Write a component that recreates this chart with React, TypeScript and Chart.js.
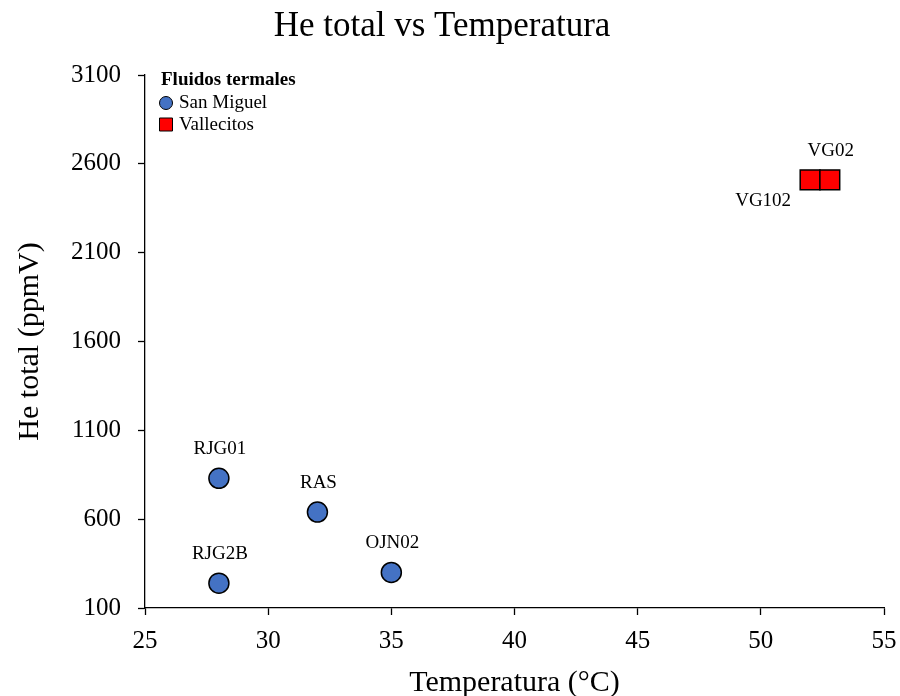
import React, { useEffect, useRef } from "react";
import { Chart, registerables } from "chart.js";

Chart.register(...registerables);

// ---- Data ----
const sanMiguelNames = ["RJG01", "RAS", "RJG2B", "OJN02"];
const sanMiguelTemp = [28, 32, 28, 35];
const sanMiguelHe = [830, 640, 240, 300];

const vallecitosNames = ["VG102", "VG02"];
const vallecitosTemp = [52, 52.8];
const vallecitosHe = [2510, 2510];

const xMin = 25;
const xMax = 55;
const xStep = 5;
const yMin = 100;
const yMax = 3100;
const yStep = 500;

const legendTitle = "Fluidos termales";
const seriesNames = ["San Miguel", "Vallecitos"];

// label placement per point (style, not data)
const sanMiguelPlacement = ["above", "above", "above", "above"];
const vallecitosPlacement = ["below-left", "above"];

const FONT = "'Liberation Serif', 'Times New Roman', serif";
const BLUE = "#4472C4";
const RED = "#FF0000";

const pointLabelPlugin = {
  id: "pointLabels",
  afterDatasetsDraw(chart: any) {
    const ctx = chart.ctx;
    ctx.save();
    ctx.font = `19px ${FONT}`;
    ctx.fillStyle = "#000";
    ctx.textBaseline = "middle";
    chart.data.datasets.forEach((ds: any, di: number) => {
      const meta = chart.getDatasetMeta(di);
      const names: string[] = ds.pointNames || [];
      const places: string[] = ds.placements || [];
      meta.data.forEach((el: any, i: number) => {
        const name = names[i];
        if (!name) return;
        const p = places[i] || "above";
        if (p === "below-left") {
          ctx.textAlign = "right";
          ctx.fillText(name, el.x - 19, el.y + 21);
        } else {
          ctx.textAlign = "center";
          ctx.fillText(name, el.x + 1, el.y - 29);
        }
      });
    });
    ctx.restore();
  },
};

const customLegendPlugin = {
  id: "customLegend",
  afterDraw(chart: any) {
    const { ctx, chartArea } = chart;
    const left = chartArea.left;
    const top = chartArea.top;
    ctx.save();
    ctx.fillStyle = "#000";
    ctx.textBaseline = "middle";
    ctx.textAlign = "left";
    ctx.font = `bold 19px ${FONT}`;
    ctx.fillText(legendTitle, left + 16, top + 5);
    ctx.font = `19px ${FONT}`;
    // San Miguel
    ctx.beginPath();
    ctx.arc(left + 21, top + 28, 6.5, 0, Math.PI * 2);
    ctx.fillStyle = BLUE;
    ctx.fill();
    ctx.lineWidth = 1;
    ctx.strokeStyle = "#000";
    ctx.stroke();
    ctx.fillStyle = "#000";
    ctx.fillText(seriesNames[0], left + 34, top + 28);
    // Vallecitos
    ctx.beginPath();
    ctx.rect(left + 14.5, top + 43, 13, 13);
    ctx.fillStyle = RED;
    ctx.fill();
    ctx.stroke();
    ctx.fillStyle = "#000";
    ctx.fillText(seriesNames[1], left + 34, top + 50);
    ctx.restore();
  },
};

export default function App() {
  const canvasRef = useRef<HTMLCanvasElement | null>(null);

  useEffect(() => {
    document.body.style.margin = "0";
    const canvas = canvasRef.current;
    if (!canvas) return;

    const chart = new Chart(canvas, {
      type: "scatter",
      data: {
        datasets: [
          {
            label: seriesNames[0],
            data: sanMiguelTemp.map((t, i) => ({ x: t, y: sanMiguelHe[i] })),
            pointStyle: "circle",
            pointRadius: 10,
            backgroundColor: BLUE,
            borderColor: "#000",
            borderWidth: 1.5,
            pointNames: sanMiguelNames,
            placements: sanMiguelPlacement,
          } as any,
          {
            label: seriesNames[1],
            data: vallecitosTemp.map((t, i) => ({ x: t, y: vallecitosHe[i] })),
            pointStyle: "rect",
            pointRadius: 14,
            backgroundColor: RED,
            borderColor: "#000",
            borderWidth: 1.5,
            pointNames: vallecitosNames,
            placements: vallecitosPlacement,
          } as any,
        ],
      },
      options: {
        animation: false,
        responsive: false,
        maintainAspectRatio: false,
        layout: { padding: { left: 0, right: 16, top: 0, bottom: 0 } },
        plugins: {
          legend: { display: false },
          tooltip: { enabled: false },
          title: {
            display: true,
            text: "He total vs Temperatura",
            color: "#000",
            font: { family: FONT, size: 35, weight: "normal" },
            padding: { top: 6, bottom: 27 },
          },
        },
        scales: {
          x: {
            type: "linear",
            min: xMin,
            max: xMax,
            ticks: {
              stepSize: xStep,
              color: "#000",
              font: { family: FONT, size: 25 },
              padding: 11,
              maxRotation: 0,
              callback: (v: any) => String(v),
            },
            grid: {
              display: true,
              drawOnChartArea: false,
              drawTicks: true,
              tickLength: 7,
              tickColor: "#000",
              tickWidth: 1.3,
            },
            border: { display: true, color: "#000", width: 1.3 },
            title: {
              display: true,
              text: "Temperatura (°C)",
              color: "#000",
              font: { family: FONT, size: 30, lineHeight: 1 },
              padding: { top: 0, bottom: -2 },
            },
            afterFit: (s: any) => {
              s.height = 88;
              s.paddingLeft = 0;
              s.paddingRight = 0;
            },
          },
          y: {
            type: "linear",
            min: yMin,
            max: yMax,
            ticks: {
              stepSize: yStep,
              color: "#000",
              font: { family: FONT, size: 25 },
              padding: 17,
              callback: (v: any) => String(v),
            },
            grid: {
              display: true,
              drawOnChartArea: false,
              drawTicks: true,
              tickLength: 7,
              tickColor: "#000",
              tickWidth: 1.3,
            },
            border: { display: true, color: "#000", width: 1.3 },
            title: {
              display: true,
              text: "He total (ppmV)",
              color: "#000",
              font: { family: FONT, size: 30, lineHeight: 1.2 },
              padding: { top: 12, bottom: 0 },
            },
            afterFit: (s: any) => {
              s.width = 145;
            },
          },
        },
      } as any,
      plugins: [pointLabelPlugin, customLegendPlugin],
    });

    return () => {
      chart.destroy();
    };
  }, []);

  return (
    <div style={{ width: 900, height: 696, position: "relative" }}>
      <canvas ref={canvasRef} width={900} height={696} style={{ display: "block" }} />
    </div>
  );
}
